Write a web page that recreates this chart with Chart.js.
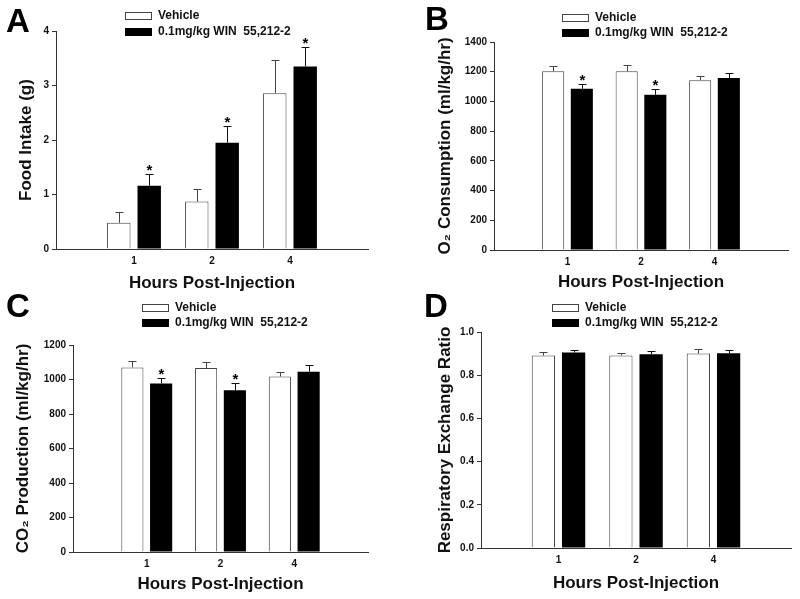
<!DOCTYPE html>
<html>
<head>
<meta charset="utf-8">
<script src="https://cdn.jsdelivr.net/npm/chart.js@4/dist/chart.umd.min.js"></script>
<style>
  html, body { margin: 0; padding: 0; background: #fff; }
  #wrap { position: relative; width: 800px; height: 599px; overflow: hidden; }
  canvas { position: absolute; }
  .letter { position: absolute; font: bold 33px Arial, "Liberation Sans", sans-serif; line-height: 33px; color: #000; z-index: 5; }
</style>
</head>
<body>
<div id="wrap">
  <canvas id="cA" width="400" height="300" style="left:0;top:0"></canvas>
  <canvas id="cB" width="400" height="300" style="left:400px;top:0"></canvas>
  <canvas id="cC" width="400" height="299" style="left:0;top:300px"></canvas>
  <canvas id="cD" width="400" height="299" style="left:400px;top:300px"></canvas>
  <div class="letter" style="left:6px;top:4px">A</div>
  <div class="letter" style="left:425px;top:2px">B</div>
  <div class="letter" style="left:6px;top:289px">C</div>
  <div class="letter" style="left:424px;top:289px">D</div>
</div>
<script>
// ---- data ----
const categories = ['1', '2', '4'];
const seriesNames = ['Vehicle', '0.1mg/kg WIN  55,212-2'];
const xTitle = 'Hours Post-Injection';

const foodVehicle = [0.48, 0.87, 2.86];
const foodVehicleErr = [0.19, 0.24, 0.61];
const foodWin = [1.16, 1.95, 3.35];
const foodWinErr = [0.21, 0.30, 0.36];
const foodSig = [true, true, true];

const o2Vehicle = [1203, 1203, 1143];
const o2VehicleErr = [38, 44, 27];
const o2Win = [1085, 1045, 1157];
const o2WinErr = [34, 38, 32];
const o2Sig = [true, true, false];

const co2Vehicle = [1070, 1066, 1017];
const co2VehicleErr = [37, 35, 28];
const co2Win = [977, 938, 1045];
const co2WinErr = [29, 41, 38];
const co2Sig = [true, true, false];

const rerVehicle = [0.891, 0.891, 0.900];
const rerVehicleErr = [0.018, 0.014, 0.020];
const rerWin = [0.905, 0.897, 0.902];
const rerWinErr = [0.013, 0.014, 0.016];
const rerSig = [false, false, false];

// ---- drawing ----
const FONT = 'Arial, "Liberation Sans", sans-serif';
const INK = '#111';

const extrasPlugin = {
  id: 'extras',
  afterDatasetsDraw(chart, args, opts) {
    const ctx = chart.ctx;
    const y = chart.scales.y;
    ctx.save();
    chart.data.datasets.forEach((ds, i) => {
      const meta = chart.getDatasetMeta(i);
      const errs = opts.errors[i];
      const sig = opts.sig[i];
      meta.data.forEach((bar, j) => {
        const v = ds.data[j].y;
        const top = y.getPixelForValue(v + errs[j]);
        const x = Math.round(bar.x) + 0.5;
        ctx.strokeStyle = i === 0 ? '#444' : '#111';
        ctx.lineWidth = 1;
        ctx.beginPath();
        ctx.moveTo(x, bar.y);
        ctx.lineTo(x, Math.round(top) + 0.5);
        ctx.moveTo(x - 4, Math.round(top) + 0.5);
        ctx.lineTo(x + 4, Math.round(top) + 0.5);
        ctx.stroke();
        if (sig && sig[j]) {
          ctx.fillStyle = '#000';
          ctx.font = 'bold 15px ' + FONT;
          ctx.textAlign = 'center';
          ctx.textBaseline = 'alphabetic';
          ctx.fillText('*', x, top + 1);
        }
      });
    });
    // legend
    const L = opts.legend;
    chart.data.datasets.forEach((ds, i) => {
      const cy = L.rows[i];
      if (i === 0) {
        ctx.fillStyle = '#fff';
        ctx.fillRect(L.x, cy - 3.5, 27, 7);
        ctx.strokeStyle = '#444';
        ctx.lineWidth = 1;
        ctx.strokeRect(L.x + 0.5, Math.round(cy - 3.5) + 0.5, 26, 7);
      } else {
        ctx.fillStyle = '#000';
        ctx.fillRect(L.x, Math.round(cy - 3.5), 27, 8);
      }
      ctx.fillStyle = INK;
      ctx.font = 'bold 12px ' + FONT;
      ctx.textAlign = 'left';
      ctx.textBaseline = 'middle';
      ctx.fillText(ds.label, L.x + 33, cy + 0.5);
    });
    ctx.restore();
  }
};

function makeChart(id, cfg) {
  const toPts = arr => arr.map((v, i) => ({ x: i + 1, y: v }));
  new Chart(document.getElementById(id), {
    type: 'bar',
    data: {
      datasets: [
        { label: seriesNames[0], data: toPts(cfg.veh), backgroundColor: '#fff', borderColor: '#444', borderWidth: 1,
          categoryPercentage: 0.78, barPercentage: 0.77 },
        { label: seriesNames[1], data: toPts(cfg.win), backgroundColor: '#000', borderColor: '#000', borderWidth: 0,
          categoryPercentage: 0.78, barPercentage: 0.77 }
      ]
    },
    options: {
      responsive: false,
      animation: false,
      devicePixelRatio: 1,
      layout: { padding: { left: 0, top: cfg.top, right: cfg.right, bottom: 0 } },
      plugins: {
        legend: { display: false },
        tooltip: { enabled: false },
        extras: { errors: [cfg.vehErr, cfg.winErr], sig: [null, cfg.sig], legend: cfg.legend }
      },
      scales: {
        x: {
          type: 'linear', min: 0, max: 4, offset: false,
          afterBuildTicks: s => { s.ticks = categories.map((c, i) => ({ value: i + 1 })); },
          afterFit: s => { s.height = cfg.xh; },
          grid: { display: false, drawTicks: false },
          border: { display: true, color: '#333', width: 1 },
          ticks: { autoSkip: false, maxRotation: 0, padding: 6, color: INK,
                   font: { family: FONT, size: 10, weight: 'bold' },
                   callback: v => categories[v - 1] },
          title: { display: true, text: xTitle, color: INK,
                   font: { family: FONT, size: 17, weight: 'bold' },
                   padding: { top: 0, bottom: cfg.xtp } }
        },
        y: {
          min: cfg.ymin, max: cfg.ymax,
          afterFit: s => { s.width = cfg.left; },
          grid: { display: true, drawOnChartArea: false, drawTicks: true, tickLength: 4, color: '#333' },
          border: { display: true, color: '#333', width: 1 },
          ticks: { stepSize: cfg.step, padding: 3, color: INK,
                   font: { family: FONT, size: 10, weight: 'bold' },
                   callback: cfg.fmt },
          title: { display: true, text: cfg.ytitle, color: INK,
                   font: { family: FONT, size: 17, weight: 'bold' },
                   padding: { top: cfg.ytp, bottom: 0 } }
        }
      }
    },
    plugins: [extrasPlugin]
  });
}

makeChart('cA', { veh: foodVehicle, vehErr: foodVehicleErr, win: foodWin, winErr: foodWinErr, sig: foodSig,
  ymin: 0, ymax: 4, step: 1, fmt: v => String(v), ytitle: 'Food Intake (g)',
  left: 56, top: 31, right: 32, xh: 51, xtp: 6, ytp: 16,
  legend: { x: 125, rows: [15.5, 31] } });

makeChart('cB', { veh: o2Vehicle, vehErr: o2VehicleErr, win: o2Win, winErr: o2WinErr, sig: o2Sig,
  ymin: 0, ymax: 1400, step: 200, fmt: v => String(v), ytitle: 'O\u2082 Consumption (ml/kg/hr)',
  left: 94, top: 42, right: 12, xh: 50, xtp: 7, ytp: 35,
  legend: { x: 162, rows: [17, 32] } });

makeChart('cC', { veh: co2Vehicle, vehErr: co2VehicleErr, win: co2Win, winErr: co2WinErr, sig: co2Sig,
  ymin: 0, ymax: 1200, step: 200, fmt: v => String(v), ytitle: 'CO\u2082 Production (ml/kg/hr)',
  left: 73, top: 45, right: 32, xh: 47, xtp: 4, ytp: 13,
  legend: { x: 142, rows: [7, 22] } });

makeChart('cD', { veh: rerVehicle, vehErr: rerVehicleErr, win: rerWin, winErr: rerWinErr, sig: rerSig,
  ymin: 0, ymax: 1, step: 0.2, fmt: v => v.toFixed(1), ytitle: 'Respiratory Exchange Ratio',
  left: 81, top: 32, right: 9, xh: 51, xtp: 5.5, ytp: 35,
  legend: { x: 152, rows: [7, 22] } });
</script>
</body>
</html>
